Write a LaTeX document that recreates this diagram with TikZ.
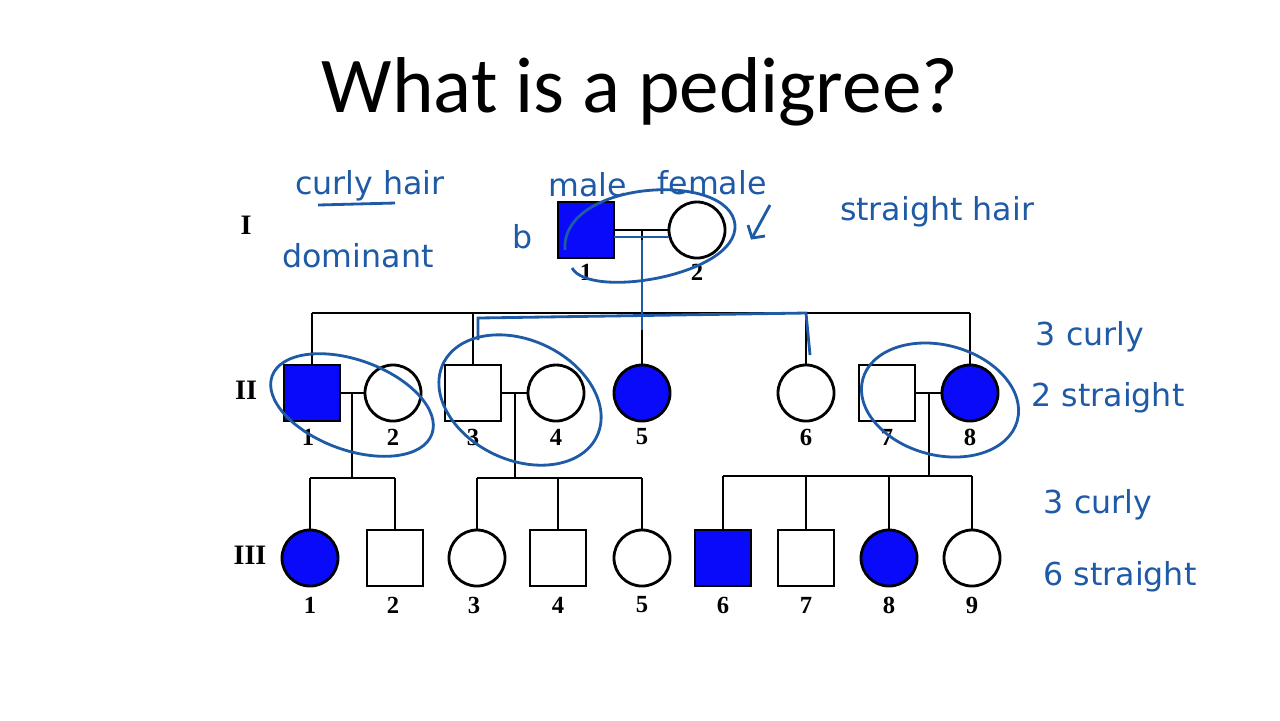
\documentclass[tikz,border=0pt]{standalone}
\usepackage{fontspec}
\setmainfont{Liberation Serif}
\newfontfamily\titlef{Carlito}
\newfontfamily\handf{DejaVu Sans}
\definecolor{pb}{RGB}{10,10,250}
\definecolor{ink}{RGB}{30,90,165}
\begin{document}
\begin{tikzpicture}[x=0.01cm,y=-0.01cm,
  sq/.style={draw,line width=0.8pt,minimum size=0.56cm,inner sep=0},
  ci/.style={draw,circle,line width=0.8pt,minimum size=0.56cm,inner sep=0},
  af/.style={fill=pb},
  ln/.style={line width=0.8pt},
  num/.style={font=\bfseries\fontsize{7}{8}\selectfont},
  gen/.style={font=\bfseries\fontsize{8}{9}\selectfont},
  hand/.style={ink,font=\handf\fontsize{9}{10}\selectfont},
  hl/.style={ink,line width=0.8pt}]
\useasboundingbox (0,0) rectangle (1280,720);
\node[font=\titlef\fontsize{22.5}{26}\selectfont] (title) at (640,92) {What is a pedigree?};
% generation labels
\node[gen] (gI) at (246,225) {I};
\node[gen] (gII) at (246,390) {II};
\node[gen] (gIII) at (250,555) {III};
% Gen I
\node[sq,af] (a1) at (586,230) {}; \node[num] (la1) at (586,272) {1};
\node[ci] (a2) at (697,230) {}; \node[num] (la2) at (697,272) {2};
% Gen II
\node[sq,af] (b1) at (312,393) {}; \node[num] at (308,437) {1};
\node[ci] (b2) at (393,393) {}; \node[num] at (393,437) {2};
\node[sq] (b3) at (473,393) {}; \node[num] at (473,437) {3};
\node[ci] (b4) at (556,393) {}; \node[num] at (556,437) {4};
\node[ci,af] (b5) at (642,393) {}; \node[num] at (642,437) {5};
\node[ci] (b6) at (806,393) {}; \node[num] at (806,437) {6};
\node[sq] (b7) at (887,393) {}; \node[num] at (887,437) {7};
\node[ci,af] (b8) at (970,393) {}; \node[num] at (970,437) {8};
% Gen III
\node[ci,af] (c1) at (310,558) {}; \node[num] at (310,605) {1};
\node[sq] (c2) at (395,558) {}; \node[num] at (393,605) {2};
\node[ci] (c3) at (477,558) {}; \node[num] at (474,605) {3};
\node[sq] (c4) at (558,558) {}; \node[num] at (558,605) {4};
\node[ci] (c5) at (642,558) {}; \node[num] at (642,605) {5};
\node[sq,af] (c6) at (723,558) {}; \node[num] at (723,605) {6};
\node[sq] (c7) at (806,558) {}; \node[num] at (806,605) {7};
\node[ci,af] (c8) at (889,558) {}; \node[num] at (889,605) {8};
\node[ci] (c9) at (972,558) {}; \node[num] at (972,605) {9};
% coordinates
\coordinate (m1) at (642,230); \coordinate (s1) at (642,313);
\coordinate (m2) at (352,393); \coordinate (s2) at (352,478);
\coordinate (m3) at (515,393); \coordinate (s3) at (515,478);
\coordinate (m4) at (929,393); \coordinate (s4) at (929,476);
% lines
\draw[ln] (a1) -- (a2); \draw[ln] (m1) -- (s1);
\draw[ln] (b1.north |- s1) -- (b8.north |- s1);
\foreach \n in {b1,b3,b5,b6,b8} \draw[ln] (\n.north |- s1) -- (\n.north);
\draw[ln] (b1) -- (b2); \draw[ln] (m2) -- (s2);
\draw[ln] (c1.north |- s2) -- (c2.north |- s2);
\foreach \n in {c1,c2} \draw[ln] (\n.north |- s2) -- (\n.north);
\draw[ln] (b3) -- (b4); \draw[ln] (m3) -- (s3);
\draw[ln] (c3.north |- s3) -- (c5.north |- s3);
\foreach \n in {c3,c4,c5} \draw[ln] (\n.north |- s3) -- (\n.north);
\draw[ln] (b7) -- (b8); \draw[ln] (m4) -- (s4);
\draw[ln] (c6.north |- s4) -- (c9.north |- s4);
\foreach \n in {c6,c7,c8,c9} \draw[ln] (\n.north |- s4) -- (\n.north);
% handwritten annotations
\node[hand] (h1) at (370,186) {curly hair};
\draw[hl] (318,205) -- (395,203);
\node[hand] (h2) at (358,256) {dominant};
\node[hand] (h3) at (588,185) {male};
\node[hand] (h4) at (712,183) {female};
\node[hand] (h5) at (937,212) {straight hair};
\node[hand] (h6) at (1090,337) {3 curly};
\node[hand] (h7) at (1108,398) {2 straight};
\node[hand] (h8) at (1098,505) {3 curly};
\node[hand] (h9) at (1120,577) {6 straight};
\node[hand] (h10) at (523,237) {b};
\draw[hl] (770,205) -- (752,238); \draw[hl] (748,225) -- (752,238) -- (765,236);
\draw[hl] (614,237) -- (669,237);
\draw[hl] (565,250) .. controls (560,180) and (730,170) .. (735,225) .. controls (738,275) and (590,300) .. (572,268);
\draw[hl] (478,340) -- (478,318) -- (806,313) -- (810,355);
\draw[hl] (642,240) -- (642,330);
\draw[hl,rotate around={-20:(352,405)}] (352,405) ellipse (85 and 45);
\draw[hl,rotate around={-25:(520,400)}] (520,400) ellipse (85 and 60);
\draw[hl,rotate around={-15:(940,400)}] (940,400) ellipse (80 and 55);
\end{tikzpicture}
\end{document}
